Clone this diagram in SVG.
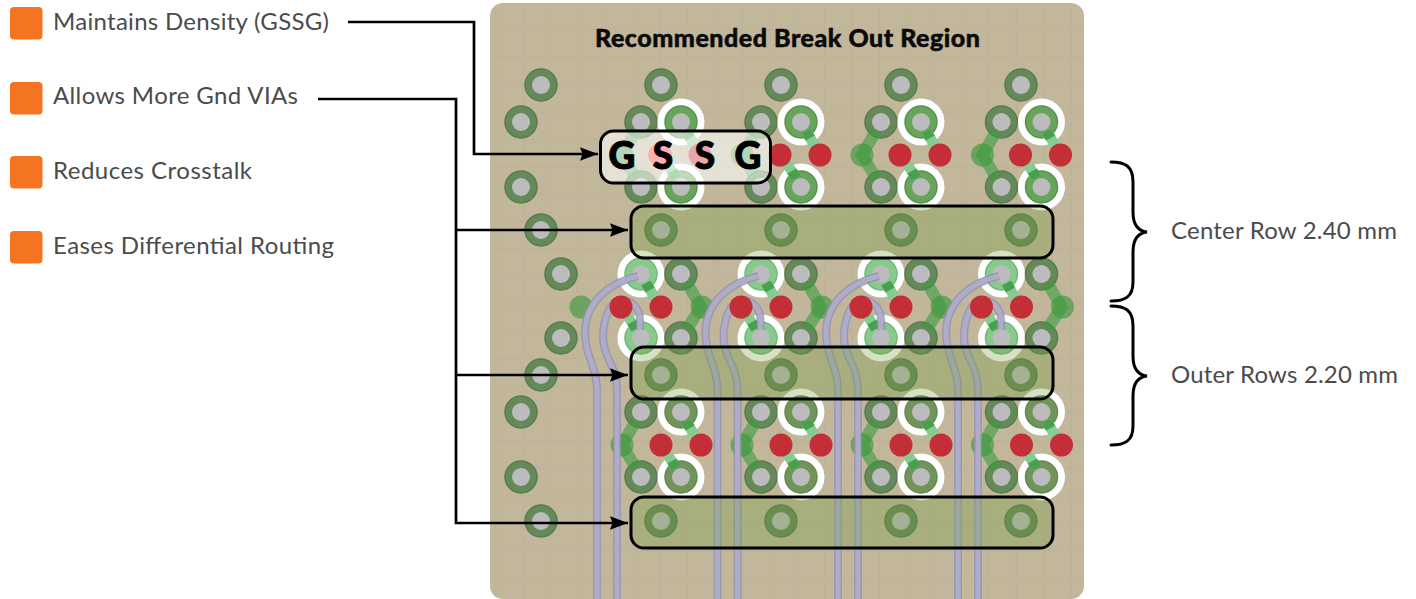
<svg xmlns="http://www.w3.org/2000/svg" width="1416" height="599" viewBox="0 0 1416 599">
<style>
.lbl{font-family:Lato,"Open Sans",sans-serif;font-size:24px;fill:#4b4b4b}
.ttl{font-family:Lato,"Open Sans",sans-serif;font-size:25px;font-weight:900;fill:#0a0a0a;stroke:#0a0a0a;stroke-width:.5}
.gs{font-family:Lato,"Open Sans",sans-serif;font-size:37px;font-weight:900;fill:#000;stroke:#000;stroke-width:1;text-anchor:middle}
.sw{fill:#f47421}
.wire{fill:none;stroke:#000;stroke-width:2.7}
.brace{fill:none;stroke:#000;stroke-width:3;stroke-linecap:round}
.gbox{fill:#6f9a3a;fill-opacity:.3;stroke:#000;stroke-width:3}
.wbox{fill:#fff;fill-opacity:.58;stroke:#000;stroke-width:3}
.ring{fill:#66895a;stroke:#587c4e;stroke-width:1.5}
.ringa{fill:#68a45a;stroke:#5a9150;stroke-width:1.5}
.ringb{fill:#88c98c;stroke:#72b67a;stroke-width:1.5}
.ringc{fill:#71945a;stroke:#648a50;stroke-width:1.5}
.hole{fill:#bcbbbd}
.halo{fill:#fff}
.red{fill:#c32e37}
.small{fill:#5e9f55;fill-opacity:.85}
.dog{fill:none;stroke:#3b9b40;stroke-opacity:.6;stroke-width:12;stroke-linejoin:miter}
.stub{fill:none;stroke:#86cb92;stroke-width:10.500}
.stubd{fill:none;stroke:#46a04e;stroke-width:10.500}
.t1{fill:none;stroke:#9391ae;stroke-width:8;stroke-opacity:.8}
.t2{fill:none;stroke:#b0aecd;stroke-width:5;stroke-opacity:.9}
</style>
<defs>
<pattern id="grid" width="27.4" height="27.4" patternUnits="userSpaceOnUse" x="3" y="3">
<path d="M27.4 0V27.4M0 27.4H27.4" fill="none" stroke="#ada28a" stroke-opacity=".45" stroke-width="1"/>
</pattern>
<marker id="arr" markerUnits="userSpaceOnUse" markerWidth="19" markerHeight="15" refX="18" refY="7.500" orient="auto">
<path d="M0 .8L18 7.500L0 14.200L2.500 7.500Z" fill="#000"/>
</marker>
<g id="pad"><circle r="16" class="ring"/><circle r="9" class="hole"/></g>
<g id="halopadA"><circle r="23.500" class="halo"/><circle r="16" class="ringa"/><circle r="9" class="hole"/></g>
<g id="halopadB"><circle r="23.500" class="halo"/><circle r="16" class="ringb"/><circle r="9" class="hole"/></g>
<g id="halopadC"><circle r="23.500" class="halo"/><circle r="16" class="ringc"/><circle r="9" class="hole"/></g>
<g id="clusterTop">
<use href="#pad" x="641" y="122"/><use href="#pad" x="641" y="187"/>
<use href="#halopadA" x="681" y="122"/><use href="#halopadA" x="681" y="187"/>
<circle cx="622" cy="155" r="11.500" class="small"/>
<path d="M636 131L622 155L636 178" class="dog"/>
<path d="M686 131L699 153" class="stub"/><path d="M686 131L690 138" class="stubd"/>
<path d="M676 178L662 156" class="stub"/><path d="M676 178L672 171" class="stubd"/>
<circle cx="660" cy="155" r="11.500" class="red"/><circle cx="700" cy="155" r="11.500" class="red"/>
</g>
<g id="clusterBot">
<use href="#pad" x="641" y="412"/><use href="#pad" x="641" y="477"/>
<use href="#halopadC" x="681" y="412"/><use href="#halopadC" x="681" y="477"/>
<circle cx="622" cy="445" r="11.500" class="small"/>
<path d="M636 421L622 445L636 468" class="dog"/>
<path d="M686 421L699 443" class="stub"/><path d="M686 421L690 428" class="stubd"/>
<path d="M676 468L662 446" class="stub"/><path d="M676 468L672 461" class="stubd"/>
<circle cx="661" cy="445" r="11.500" class="red"/><circle cx="701" cy="445" r="11.500" class="red"/>
</g>
<g id="clusterMid">
<use href="#halopadB" x="641" y="274"/><use href="#halopadB" x="641" y="338"/>
<use href="#pad" x="681" y="274"/><use href="#pad" x="681" y="338"/>
<circle cx="702" cy="307" r="11.500" class="small"/>
<path d="M687 283L701 307L687 329" class="dog"/>
<path d="M646 283L659 305" class="stub"/><path d="M646 283L650 290" class="stubd"/>
<path d="M636 329L623 309" class="stub"/><path d="M636 329L632 322" class="stubd"/>
</g>
<g id="trace">
<path d="M638 276C608 283 585 303 585 333C585 358 597 365 597 390V599" class="t1"/>
<path d="M638 276C608 283 585 303 585 333C585 358 597 365 597 390V599" class="t2"/>
<path d="M640 330V320C640 308 631 300 622 300C610 300 603 320 603 337C603 358 617 365 617 390V599" class="t1"/>
<path d="M640 330V320C640 308 631 300 622 300C610 300 603 320 603 337C603 358 617 365 617 390V599" class="t2"/>
</g>
<g id="reds"><circle cx="621" cy="307" r="11.500" class="red"/><circle cx="661" cy="307" r="11.500" class="red"/></g>
</defs>

<g id="legend">
<g id="item-density"><rect class="sw" x="10" y="7" width="32.500" height="32.500" rx="4"/><text class="lbl" x="53" y="30" textLength="276" lengthAdjust="spacing">Maintains Density (GSSG)</text></g>
<g id="item-gnd"><rect class="sw" x="10" y="82" width="32.500" height="32.500" rx="4"/><text class="lbl" x="53" y="104" textLength="245" lengthAdjust="spacing">Allows More Gnd VIAs</text></g>
<g id="item-crosstalk"><rect class="sw" x="10" y="156" width="32.500" height="32.500" rx="4"/><text class="lbl" x="53" y="179" textLength="199" lengthAdjust="spacing">Reduces Crosstalk</text></g>
<g id="item-routing"><rect class="sw" x="10" y="231" width="32.500" height="32.500" rx="4"/><text class="lbl" x="53" y="254" textLength="281" lengthAdjust="spacing">Eases Differential Routing</text></g>
</g>

<g id="board">
<rect x="490" y="3" width="594" height="596" rx="13" fill="#c2b79b"/>
<rect x="490" y="3" width="594" height="596" rx="13" fill="url(#grid)"/>
<g id="left-pads">
<use href="#pad" x="541" y="85"/><use href="#pad" x="521" y="122"/><use href="#pad" x="521" y="187"/><use href="#pad" x="541" y="230"/>
<use href="#pad" x="561" y="274"/><use href="#pad" x="561" y="338"/><circle cx="581" cy="307" r="11.500" class="small"/>
<use href="#pad" x="541" y="375"/><use href="#pad" x="521" y="412"/><use href="#pad" x="521" y="477"/><use href="#pad" x="541" y="521"/>
</g>
<g id="row-85"><use href="#pad" x="661" y="85"/><use href="#pad" x="781" y="85"/><use href="#pad" x="901" y="85"/><use href="#pad" x="1021" y="85"/></g>
<g id="row-230"><use href="#pad" x="661" y="230"/><use href="#pad" x="781" y="230"/><use href="#pad" x="901" y="230"/><use href="#pad" x="1021" y="230"/></g>
<g id="row-375"><use href="#pad" x="661" y="375"/><use href="#pad" x="781" y="375"/><use href="#pad" x="901" y="375"/><use href="#pad" x="1021" y="375"/></g>
<g id="row-521"><use href="#pad" x="661" y="521"/><use href="#pad" x="781" y="521"/><use href="#pad" x="901" y="521"/><use href="#pad" x="1021" y="521"/></g>
<g id="clusters-top"><use href="#clusterTop"/><use href="#clusterTop" x="120"/><use href="#clusterTop" x="240"/><use href="#clusterTop" x="360.500"/></g>
<circle cx="660" cy="155" r="11.500" fill="#ff3f48"/>
<g id="clusters-mid"><use href="#clusterMid"/><use href="#clusterMid" x="120"/><use href="#clusterMid" x="240"/><use href="#clusterMid" x="360.500"/></g>
<g id="clusters-bot"><use href="#clusterBot"/><use href="#clusterBot" x="120"/><use href="#clusterBot" x="240"/><use href="#clusterBot" x="360.500"/></g>
<g id="traces"><use href="#trace"/><use href="#trace" x="120.500"/><use href="#trace" x="241"/><use href="#trace" x="361"/></g>
<g id="reds-mid"><use href="#reds"/><use href="#reds" x="120"/><use href="#reds" x="240"/><use href="#reds" x="360.500"/></g>
<text class="ttl" x="595" y="47" textLength="385" lengthAdjust="spacing">Recommended Break Out Region</text>
</g>

<g id="box-gssg"><rect class="wbox" x="600.500" y="131" width="170" height="52" rx="13"/>
<text class="gs" x="622" y="169">G</text><text class="gs" x="663" y="169">S</text><text class="gs" x="705" y="169">S</text><text class="gs" x="748" y="169">G</text></g>
<g id="box-center"><rect class="gbox" x="631" y="206" width="422" height="52" rx="13"/></g>
<g id="box-outer"><rect class="gbox" x="631" y="347" width="422" height="52" rx="13"/></g>
<g id="box-bottom"><rect class="gbox" x="631" y="497" width="422" height="51" rx="13"/></g>

<g id="connectors">
<path class="wire" d="M348 22H474V154H598" marker-end="url(#arr)"/>
<path class="wire" d="M318 99H456V523H628" marker-end="url(#arr)"/>
<path class="wire" d="M456 230H628" marker-end="url(#arr)"/>
<path class="wire" d="M456 375H628" marker-end="url(#arr)"/>
</g>

<g id="brace-center"><path class="brace" d="M1111 162C1125 162 1133 166 1133 182V212C1133 224 1138 231 1147 232C1138 233 1133 240 1133 252V282C1133 297 1125 301 1111 301"/><text class="lbl" x="1171" y="239" textLength="226" lengthAdjust="spacing">Center Row 2.40 mm</text></g>
<g id="brace-outer"><path class="brace" d="M1111 306C1125 306 1133 310 1133 326V356C1133 368 1138 375 1147 376C1138 377 1133 384 1133 396V426C1133 441 1125 445 1111 445"/><text class="lbl" x="1171" y="383" textLength="227" lengthAdjust="spacing">Outer Rows 2.20 mm</text></g>
</svg>
